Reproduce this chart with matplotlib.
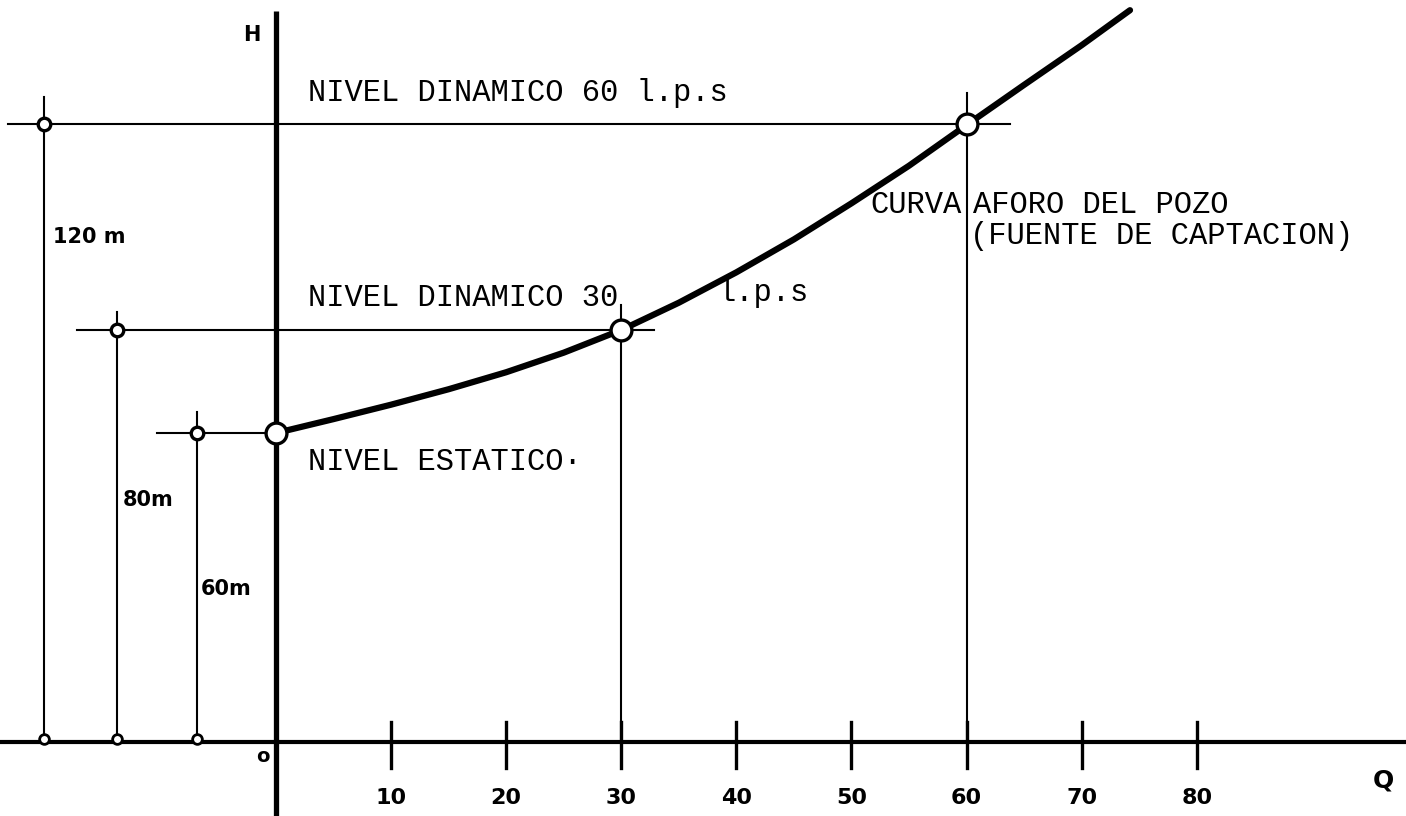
import matplotlib
matplotlib.use("Agg")
import matplotlib.pyplot as plt

# Curva de aforo del pozo (Q en l.p.s, H en m)
curva_q = [0, 5, 10, 15, 20, 25, 30, 35, 40, 45, 50, 55, 60, 65, 70, 74.2]
curva_h = [60, 62.7, 65.5, 68.5, 71.8, 75.6, 80, 85.3, 91.2, 97.6, 104.6, 111.9, 119.8, 127.6, 135.3, 142.1]

# Niveles: estatico y dinamicos
niveles_q = [0, 30, 60]
niveles_h = [60, 80, 120]
cotas_txt = ["60m", "80m", "120 m"]
cotas_q = [-6.9, -13.8, -20.2]

ticks_q = [10, 20, 30, 40, 50, 60, 70, 80]

mono = "Liberation Mono"

fig = plt.figure(figsize=(14.06, 8.16), dpi=100)
ax = fig.add_axes([0, 0, 1, 1])
ax.set_xlim(-23.98, 98.18)
ax.set_ylim(-14.37, 144.08)
ax.axis("off")

# ejes
ax.plot([-24, 98.2], [0, 0], color="black", lw=3, solid_capstyle="butt")
ax.plot([0, 0], [-15, 142], color="black", lw=3.8, solid_capstyle="butt")
for q in ticks_q:
    ax.plot([q, q], [-5, 3.9], color="black", lw=2.4)
    ax.text(q, -10.8, str(q), ha="center", va="center", fontsize=16, fontweight="bold")
ax.text(-1.1, -2.8, "o", ha="center", va="center", fontsize=14, fontweight="bold")
ax.text(96.2, -7.5, "Q", ha="center", va="center", fontsize=18, fontweight="bold")
ax.text(-2.1, 137.3, "H", ha="center", va="center", fontsize=15, fontweight="bold")

# lineas de nivel horizontales
ax.plot([-23.3, 63.8], [niveles_h[2], niveles_h[2]], color="black", lw=1.5)
ax.plot([-17.3, 32.8], [niveles_h[1], niveles_h[1]], color="black", lw=1.5)
ax.plot([-10.3, 0], [niveles_h[0], niveles_h[0]], color="black", lw=1.5)

# verticales en Q = 30 y Q = 60
ax.plot([niveles_q[1]] * 2, [0, 84.9], color="black", lw=1.5)
ax.plot([niveles_q[2]] * 2, [0, 126], color="black", lw=1.5)

# cotas a la izquierda
tops = [64, 83.5, 125.2]
for q, h, top, txt in zip(cotas_q, niveles_h, tops, cotas_txt):
    ax.plot([q, q], [0, top], color="black", lw=1.5)
    ax.plot(q, h, "o", ms=9, mfc="white", mec="black", mew=2.4)
    ax.plot(q, 0.6, "o", ms=7, mfc="white", mec="black", mew=2)
ax.text(-19.4, 98.1, cotas_txt[2], ha="left", va="center", fontsize=15, fontweight="bold")
ax.text(-13.3, 46.9, cotas_txt[1], ha="left", va="center", fontsize=15, fontweight="bold")
ax.text(-6.5, 29.8, cotas_txt[0], ha="left", va="center", fontsize=15, fontweight="bold")

# curva de aforo
ax.plot(curva_q, curva_h, color="black", lw=4.5, solid_capstyle="round", solid_joinstyle="round")
ax.plot(niveles_q, niveles_h, "o", ms=15, mfc="white", mec="black", mew=2.4, zorder=5)

# textos
ax.text(2.8, 126.0, "NIVEL DINAMICO 60 l.p.s", family=mono, fontsize=22, ha="left", va="center")
ax.text(2.8, 86.2, "NIVEL DINAMICO 30", family=mono, fontsize=22, ha="left", va="center")
ax.text(38.3, 87.2, "l.p.s", family=mono, fontsize=22, ha="left", va="center")
ax.text(2.8, 54.4, "NIVEL ESTATICO·", family=mono, fontsize=22, ha="left", va="center")
ax.text(51.6, 104.3, "CURVA", family=mono, fontsize=22, ha="left", va="center")
ax.text(60.6, 104.3, "AFORO DEL POZO", family=mono, fontsize=22, ha="left", va="center")
ax.text(60.3, 98.2, "(FUENTE DE CAPTACION)", family=mono, fontsize=22, ha="left", va="center")

fig.savefig("out.png", dpi=100, facecolor="white")
